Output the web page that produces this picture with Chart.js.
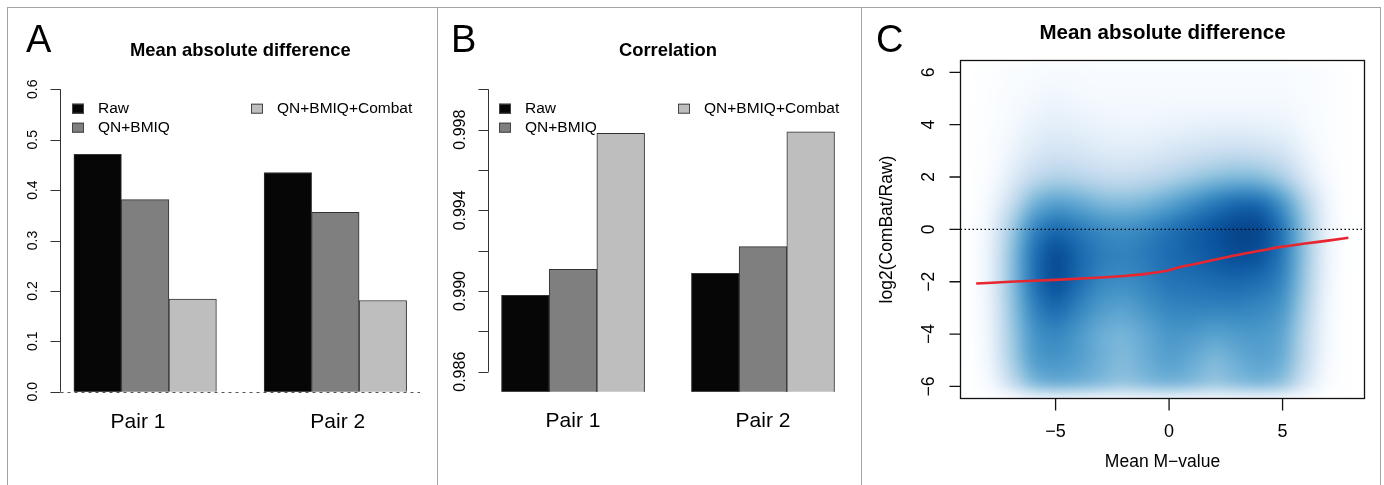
<!DOCTYPE html>
<html>
<head>
<meta charset="utf-8">
<script src="https://cdn.jsdelivr.net/npm/chart.js@4.4.0/dist/chart.umd.min.js"></script>
<style>
  html, body { margin: 0; padding: 0; background: #fff; width: 1384px; height: 485px; overflow: hidden; }
  canvas { position: absolute; left: 0; top: 0; }
  .frame { position: absolute; left: 7px; top: 7px; width: 1372px; height: 500px; border: 1px solid #a3a3a3; }
  .divider { position: absolute; top: 7px; width: 1px; height: 500px; background: #a3a3a3; }
</style>
</head>
<body>
<div class="frame"></div>
<div class="divider" style="left:437px"></div>
<div class="divider" style="left:861px"></div>
<canvas id="panelA" width="1384" height="485"></canvas>
<canvas id="panelB" width="1384" height="485"></canvas>
<canvas id="panelC" width="1384" height="485"></canvas>
<script>
// --- data ---
const seriesNames = ['Raw', 'QN+BMIQ', 'QN+BMIQ+Combat'];
const seriesColors = ['#060606', '#7f7f7f', '#bebebe'];
const pairLabels = ['Pair 1', 'Pair 2'];
const groupPos = [2.5, 6.5];

// A: mean absolute difference
const madRaw = [0.471, 0.435];
const madQnBmiq = [0.381, 0.356];
const madCombat = [0.184, 0.181];
const madTicks = [0, 0.1, 0.2, 0.3, 0.4, 0.5, 0.6];
const madTickLabels = ['0.0', '0.1', '0.2', '0.3', '0.4', '0.5', '0.6'];
const madPairPos = [2.35, 6.55];

// B: correlation
const corRaw = [0.98979, 0.99088];
const corQnBmiq = [0.99108, 0.99220];
const corCombat = [0.99782, 0.99789];
const corTicks = [0.986, 0.988, 0.990, 0.992, 0.994, 0.996, 0.998, 1.000];
const corTickLabels = ['0.986', '', '0.990', '', '0.994', '', '0.998', ''];
const corPairPos = [2.5, 6.5];

// C: lowess curve of log2(ComBat/Raw) vs mean M-value
const smoothX = [-8.5, -7, -5, -3, -2, -1, -0.5, 0, 0.5, 1, 2, 3, 4, 5, 6, 7, 7.9];
const smoothY = [-2.07, -2.0, -1.93, -1.84, -1.78, -1.7, -1.64, -1.56, -1.44, -1.35, -1.16, -0.98, -0.82, -0.66, -0.54, -0.43, -0.32];
const mTicks = [-5, 0, 5];
const mTickLabels = ['\u22125', '0', '5'];
const ratioTicks = [-6, -4, -2, 0, 2, 4, 6];
const ratioTickLabels = ['\u22126', '\u22124', '\u22122', '0', '2', '4', '6'];

// C: smoothed density (colour-ramp level 0..1) on a coarse grid
const densityX = [-9, -8, -7, -6, -5, -4, -3, -2, -1, 0, 1, 2, 3, 4, 5, 6, 7, 8];
const densityY = [7, 6, 5, 4, 3, 2, 1, 0, -1, -2, -3, -4, -5, -6, -6.5];
const densityRows = [
  [0, .02, .05, .07, .07, .07, .07, .07, .07, .07, .07, .07, .07, .07, .07, .06, .04, 0],
  [0, .03, .08, .10, .11, .11, .10, .10, .10, .10, .10, .10, .10, .10, .10, .09, .06, 0],
  [0, .04, .10, .13, .15, .13, .12, .12, .12, .12, .12, .12, .12, .12, .12, .10, .06, 0],
  [0, .05, .12, .17, .20, .18, .16, .15, .15, .16, .17, .18, .18, .17, .16, .12, .06, 0],
  [0, .06, .15, .23, .27, .25, .22, .21, .22, .25, .28, .30, .31, .30, .26, .16, .07, 0],
  [0, .07, .20, .34, .39, .37, .33, .32, .34, .38, .43, .48, .51, .49, .41, .24, .09, 0],
  [0, .10, .30, .54, .62, .58, .52, .50, .53, .60, .68, .76, .82, .82, .66, .40, .14, 0],
  [0, .14, .42, .72, .82, .76, .70, .68, .72, .78, .84, .89, .94, .94, .78, .46, .15, 0],
  [0, .15, .46, .78, .93, .82, .74, .72, .75, .80, .83, .87, .91, .89, .76, .46, .15, 0],
  [0, .15, .46, .78, .92, .80, .70, .68, .72, .77, .78, .80, .81, .79, .72, .44, .14, 0],
  [0, .14, .44, .72, .82, .72, .63, .60, .66, .71, .72, .72, .72, .70, .66, .40, .12, 0],
  [0, .13, .42, .66, .71, .64, .55, .52, .58, .65, .64, .60, .63, .64, .60, .36, .11, 0],
  [0, .12, .40, .63, .66, .62, .55, .50, .56, .62, .57, .50, .56, .61, .57, .34, .10, 0],
  [0, .08, .30, .52, .57, .55, .51, .47, .51, .54, .51, .46, .50, .53, .48, .26, .07, 0],
  [0, 0, 0, 0, 0, 0, 0, 0, 0, 0, 0, 0, 0, 0, 0, 0, 0, 0]
];
const blues = ['#ffffff', '#f7fbff', '#deebf7', '#c6dbef', '#9ecae1', '#6baed6', '#4292c6', '#2171b5', '#08519c', '#08306b'];

const W = 1384, H = 485;
const FONT = '"Liberation Sans", Arial, Helvetica, sans-serif';

function padFor(area) {
  return { left: area.l, top: area.t, right: W - area.r, bottom: H - area.b };
}

function rotatedText(ctx, text, x, y) {
  ctx.save();
  ctx.translate(x, y);
  ctx.rotate(-Math.PI / 2);
  ctx.fillText(text, 0, 0);
  ctx.restore();
}

// R-style axis, labels and legend for the two bar panels
function drawBarDecor(chart, p) {
  const { ctx, chartArea: a, scales: { x, y } } = chart;
  ctx.save();
  ctx.strokeStyle = '#333';
  ctx.fillStyle = '#000';
  ctx.lineWidth = 1;

  ctx.beginPath();
  ctx.moveTo(a.left, y.getPixelForValue(p.ticks[0]));
  ctx.lineTo(a.left, y.getPixelForValue(p.ticks[p.ticks.length - 1]));
  p.ticks.forEach(t => {
    const py = Math.round(y.getPixelForValue(t)) + 0.5;
    ctx.moveTo(a.left - 10, py);
    ctx.lineTo(a.left, py);
  });
  ctx.stroke();

  ctx.font = `${p.tickFont}px ${FONT}`;
  ctx.textAlign = 'center';
  ctx.textBaseline = 'middle';
  p.ticks.forEach((t, i) => {
    if (p.tickLabels[i]) rotatedText(ctx, p.tickLabels[i], p.tickLabelX, y.getPixelForValue(t));
  });

  if (p.zeroLine) {
    const py = Math.round(y.getPixelForValue(0)) + 0.5;
    ctx.save();
    ctx.setLineDash([3, 4]);
    ctx.strokeStyle = '#555';
    ctx.beginPath();
    ctx.moveTo(a.left, py);
    ctx.lineTo(a.right, py);
    ctx.stroke();
    ctx.restore();
  }

  ctx.font = `21px ${FONT}`;
  p.pairPos.forEach((v, i) => ctx.fillText(pairLabels[i], x.getPixelForValue(v), p.pairY));

  ctx.font = `bold 18.4px ${FONT}`;
  ctx.fillText(p.title, (a.left + a.right) / 2, 51);

  ctx.font = `38px ${FONT}`;
  ctx.textAlign = 'left';
  ctx.textBaseline = 'alphabetic';
  ctx.fillText(p.letter, p.letterX, 52);

  // legend
  ctx.font = `15.5px ${FONT}`;
  ctx.textBaseline = 'middle';
  p.legend.forEach((l, k) => {
    ctx.fillStyle = seriesColors[k];
    ctx.fillRect(l.bx, l.y - 5, 12, 10);
    ctx.strokeStyle = '#444';
    ctx.strokeRect(l.bx + 0.5, l.y - 4.5, 11, 9);
    ctx.fillStyle = '#000';
    ctx.fillText(seriesNames[k], l.tx, l.y);
  });
  ctx.restore();
}

function makeBarPanel(id, p) {
  const datasets = p.series.map((vals, k) => ({
    label: seriesNames[k],
    data: groupPos.map((gx, i) => ({ x: gx, y: vals[i] })),
    backgroundColor: seriesColors[k],
    borderColor: '#333',
    borderWidth: 1,
    borderSkipped: 'start',
    barThickness: p.barW,
    clip: 0
  }));
  return new Chart(document.getElementById(id), {
    type: 'bar',
    data: { datasets },
    options: {
      responsive: false,
      animation: false,
      layout: { padding: padFor(p.area) },
      plugins: { legend: { display: false }, tooltip: { enabled: false } },
      scales: {
        x: { type: 'linear', display: false, offset: false, min: 0.72, max: 8.28 },
        y: { display: false, min: p.yMin, max: p.yMax }
      }
    },
    plugins: [{ id: 'rDecor', afterDraw: chart => drawBarDecor(chart, p) }]
  });
}

makeBarPanel('panelA', {
  series: [madRaw, madQnBmiq, madCombat],
  area: { l: 60.5, r: 420, t: 77.2, b: 403.8 },
  yMin: -0.024, yMax: 0.624,
  ticks: madTicks, tickLabels: madTickLabels, tickFont: 14, tickLabelX: 33,
  barW: 47.5, zeroLine: true,
  pairPos: madPairPos, pairY: 422,
  title: 'Mean absolute difference', letter: 'A', letterX: 26,
  legend: [{ bx: 72, tx: 98, y: 108.7 }, { bx: 72, tx: 98, y: 127.7 }, { bx: 251, tx: 277, y: 108.7 }]
});

makeBarPanel('panelB', {
  series: [corRaw, corQnBmiq, corCombat],
  area: { l: 488.5, r: 847.5, t: 87.3, b: 391.7 },
  yMin: 0.98501, yMax: 1.0001,
  ticks: corTicks, tickLabels: corTickLabels, tickFont: 16, tickLabelX: 460.5,
  barW: 47.7, zeroLine: false,
  pairPos: corPairPos, pairY: 421,
  title: 'Correlation', letter: 'B', letterX: 451,
  legend: [{ bx: 499, tx: 525, y: 108.7 }, { bx: 499, tx: 525, y: 127.7 }, { bx: 678, tx: 704, y: 108.7 }]
});

// --- panel C helpers ---
function bracket(arr, v) {
  const asc = arr[0] < arr[arr.length - 1];
  for (let i = 0; i < arr.length - 1; i++) {
    const a = arr[i], b = arr[i + 1];
    if (asc ? (v >= a && v <= b) : (v <= a && v >= b)) return [i, (v - a) / (b - a)];
  }
  return null;
}

function hexRgb(h) {
  return [parseInt(h.slice(1, 3), 16), parseInt(h.slice(3, 5), 16), parseInt(h.slice(5, 7), 16)];
}
const rampRgb = blues.map(hexRgb);

function rampColor(d) {
  const pos = Math.max(0, Math.min(1, d)) * (rampRgb.length - 1);
  const i = Math.min(Math.floor(pos), rampRgb.length - 2);
  const f = pos - i;
  const c0 = rampRgb[i], c1 = rampRgb[i + 1];
  return [0, 1, 2].map(k => Math.round(c0[k] + (c1[k] - c0[k]) * f));
}

const densityPlugin = {
  id: 'density',
  beforeDatasetsDraw(chart) {
    const { ctx, chartArea: a, scales: { x, y } } = chart;
    const w = Math.round(a.right - a.left), h = Math.round(a.bottom - a.top);
    const off = document.createElement('canvas');
    off.width = w; off.height = h;
    const octx = off.getContext('2d');
    const img = octx.createImageData(w, h);
    const cols = [];
    for (let i = 0; i < w; i++) cols.push(bracket(densityX, x.getValueForPixel(a.left + i + 0.5)));
    for (let j = 0; j < h; j++) {
      const by = bracket(densityY, y.getValueForPixel(a.top + j + 0.5));
      for (let i = 0; i < w; i++) {
        const bx = cols[i];
        let d = 0;
        if (bx && by) {
          const r0 = densityRows[by[0]], r1 = densityRows[by[0] + 1];
          const t = r0[bx[0]] * (1 - bx[1]) + r0[bx[0] + 1] * bx[1];
          const b = r1[bx[0]] * (1 - bx[1]) + r1[bx[0] + 1] * bx[1];
          d = t * (1 - by[1]) + b * by[1];
        }
        const c = rampColor(d);
        const o = (j * w + i) * 4;
        img.data[o] = c[0]; img.data[o + 1] = c[1]; img.data[o + 2] = c[2]; img.data[o + 3] = 255;
      }
    }
    octx.putImageData(img, 0, 0);
    ctx.save();
    ctx.beginPath();
    ctx.rect(a.left, a.top, a.right - a.left, a.bottom - a.top);
    ctx.clip();
    ctx.filter = 'blur(7px)';
    ctx.drawImage(off, a.left, a.top);
    ctx.filter = 'none';
    // dotted reference line at zero
    const py = y.getPixelForValue(0);
    ctx.setLineDash([1.5, 2.5]);
    ctx.strokeStyle = '#000';
    ctx.lineWidth = 1.2;
    ctx.beginPath();
    ctx.moveTo(a.left, py);
    ctx.lineTo(a.right, py);
    ctx.stroke();
    ctx.restore();
  },
  afterDraw(chart) {
    const { ctx, chartArea: a, scales: { x, y } } = chart;
    ctx.save();
    ctx.strokeStyle = '#111';
    ctx.lineWidth = 1.3;
    ctx.strokeRect(a.left, a.top, a.right - a.left, a.bottom - a.top);
    ctx.beginPath();
    ratioTicks.forEach(t => {
      const py = y.getPixelForValue(t);
      ctx.moveTo(a.left - 11, py);
      ctx.lineTo(a.left, py);
    });
    mTicks.forEach(t => {
      const px = x.getPixelForValue(t);
      ctx.moveTo(px, a.bottom);
      ctx.lineTo(px, a.bottom + 12);
    });
    ctx.stroke();

    ctx.fillStyle = '#000';
    ctx.textAlign = 'center';
    ctx.textBaseline = 'middle';
    ctx.font = `17.5px ${FONT}`;
    ratioTicks.forEach((t, i) => rotatedText(ctx, ratioTickLabels[i], 929, y.getPixelForValue(t)));
    ctx.font = `18px ${FONT}`;
    mTicks.forEach((t, i) => ctx.fillText(mTickLabels[i], x.getPixelForValue(t), 432));
    ctx.font = `17.5px ${FONT}`;
    ctx.fillText('Mean M\u2212value', (a.left + a.right) / 2, 462);
    rotatedText(ctx, 'log2(ComBat/Raw)', 887, (a.top + a.bottom) / 2);
    ctx.font = `bold 20.5px ${FONT}`;
    ctx.fillText('Mean absolute difference', (a.left + a.right) / 2, 33);
    ctx.font = `38px ${FONT}`;
    ctx.textAlign = 'left';
    ctx.textBaseline = 'alphabetic';
    ctx.fillText('C', 876, 52);
    ctx.restore();
  }
};

new Chart(document.getElementById('panelC'), {
  type: 'scatter',
  data: {
    datasets: [{
      label: 'lowess',
      data: smoothX.map((v, i) => ({ x: v, y: smoothY[i] })),
      showLine: true,
      borderColor: '#e8262f',
      borderWidth: 2.6,
      pointRadius: 0,
      cubicInterpolationMode: 'monotone'
    }]
  },
  options: {
    responsive: false,
    animation: false,
    layout: { padding: padFor({ l: 960.5, r: 1364.5, t: 60.5, b: 398.5 }) },
    plugins: { legend: { display: false }, tooltip: { enabled: false } },
    scales: {
      x: { type: 'linear', display: false, min: -9.19, max: 8.61 },
      y: { type: 'linear', display: false, min: -6.46, max: 6.45 }
    }
  },
  plugins: [densityPlugin]
});
</script>
</body>
</html>
